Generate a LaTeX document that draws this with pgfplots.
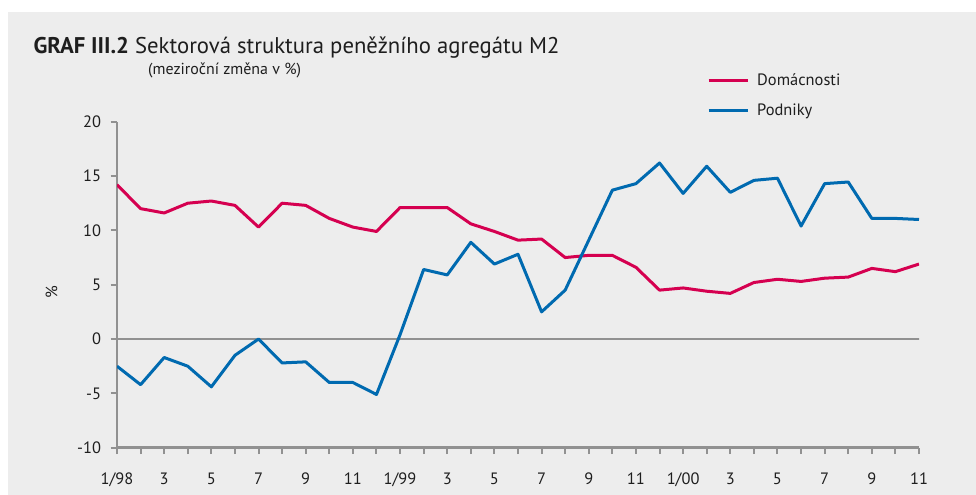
\documentclass[border=0pt]{standalone}
\usepackage{fontspec}
\setmainfont{PT Sans}
\usepackage{pgfplots}
\pgfplotsset{compat=1.18}
\definecolor{bggray}{RGB}{237,237,237}
\definecolor{dred}{RGB}{213,0,80}
\definecolor{pblue}{RGB}{0,106,176}
\definecolor{axgray}{RGB}{145,145,145}
\definecolor{txt}{RGB}{30,30,30}
\begin{document}
\begin{tikzpicture}
\useasboundingbox (0,0) rectangle (976bp,495bp);
\fill[white] (0,0) rectangle (976bp,495bp);
\fill[bggray] (8bp,0) rectangle (976bp,483bp);
\node[anchor=base west, inner sep=0, text=txt, font=\fontsize{22.8}{26}\selectfont] at (33.3bp,441.7bp) {\textbf{GRAF III.2} Sektorová struktura peněžního agregátu M2};
\node[anchor=base west, inner sep=0, text=txt, font=\fontsize{16}{19}\selectfont] at (148bp,420bp) {(meziroční změna v \%)};
\begin{axis}[
  at={(117bp,47.3bp)}, anchor=south west,
  scale only axis, width=802bp, height=326bp,
  xmin=0, xmax=34, ymin=-10, ymax=20,
  axis lines=left, axis line style={-, axgray, line width=2.5bp},
  xtick={0,...,34},
  xticklabels={1/98,,3,,5,,7,,9,,11,,1/99,,3,,5,,7,,9,,11,,1/00,,3,,5,,7,,9,,11},
  ytick={-10,-5,0,5,10,15,20},
  tick align=outside, major tick length=6.5bp,
  tick style={axgray, line width=2bp},
  /pgf/number format/assume math mode=true,
  ticklabel style={text=txt, font=\fontsize{16.5}{19}\selectfont},
  xticklabel style={yshift=-15bp},
  yticklabel style={xshift=-6bp},
  ylabel={\%}, ylabel style={at={(axis description cs:-0.0815,0.478)}, anchor=center, rotate=0, text=txt, font=\fontsize{16.5}{19}\selectfont},
  legend style={draw=none, fill=none, at={(axis description cs:0.7357,1.155)}, anchor=north west, inner sep=0pt, row sep=13bp, font=\fontsize{16.5}{19}\selectfont, text=txt},
  legend cell align=left,
  legend image code/.code={\draw[#1, line width=3bp] (0bp,0bp) -- (39bp,0bp); \path (45bp,0bp);},
  every axis plot/.append style={line width=3bp, line join=round},
]
\draw[axgray, line width=1.2bp] (axis cs:0,0) -- (axis cs:34.12,0);
\addplot[dred] coordinates {
(0,14.2) (1,12.0) (2,11.6) (3,12.5) (4,12.7) (5,12.3) (6,10.3) (7,12.5) (8,12.3) (9,11.1)
(10,10.3) (11,9.9) (12,12.1) (13,12.1) (14,12.1) (15,10.6) (16,9.9) (17,9.1) (18,9.2) (19,7.5)
(20,7.7) (21,7.7) (22,6.6) (23,4.5) (24,4.7) (25,4.4) (26,4.2) (27,5.2) (28,5.5) (29,5.3)
(30,5.6) (31,5.7) (32,6.5) (33,6.2) (34,6.9)};
\addlegendentry{Domácnosti}
\addplot[pblue] coordinates {
(0,-2.5) (1,-4.2) (2,-1.7) (3,-2.5) (4,-4.4) (5,-1.5) (6,0.0) (7,-2.2) (8,-2.1) (9,-4.0)
(10,-4.0) (11,-5.1) (12,0.4) (13,6.4) (14,5.9) (15,8.9) (16,6.9) (17,7.8) (18,2.5) (19,4.5)
(20,9.1) (21,13.7) (22,14.3) (23,16.2) (24,13.4) (25,15.9) (26,13.5) (27,14.6) (28,14.8) (29,10.4)
(30,14.3) (31,14.45) (32,11.1) (33,11.1) (34,11.0)};
\addlegendentry{Podniky}
\end{axis}
\end{tikzpicture}
\end{document}
